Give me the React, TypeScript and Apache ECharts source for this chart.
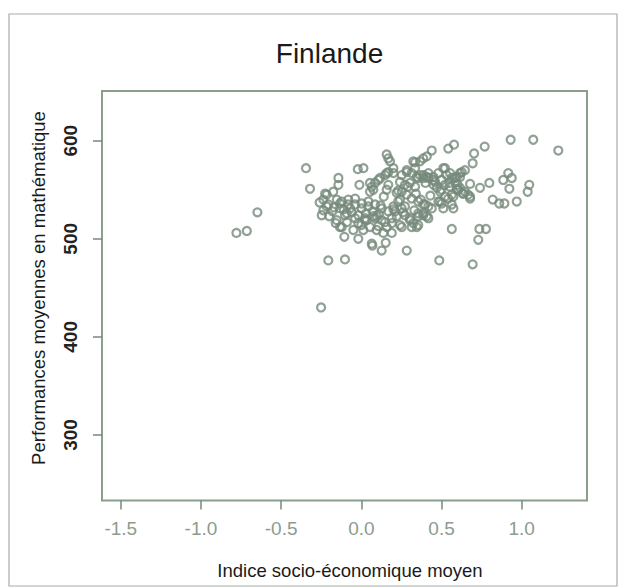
import React, { useEffect, useRef } from "react";
import * as echarts from "echarts";

const titleText = "Finlande";
const xName = "Indice socio-économique moyen";
const yName = "Performances moyennes en mathématique";
const xTicks = [-1.5, -1.0, -0.5, 0.0, 0.5, 1.0];
const yTicks = [300, 400, 500, 600];

// Indice socio-économique moyen (x) and Performances moyennes (y) per school
const sesIndex = [
  -0.779, -0.714, -0.648, -0.345, -0.32, -0.206, -0.251, -0.102, 0.069, 0.127,
  0.152, 0.283, 0.486, 0.564, -0.106, -0.019, 0.736, 0.777, 0.729, 0.694,
  0.578, 0.769, 0.931, 1.072, 1.228, 0.703, 0.694, 0.615, 0.584, 0.678,
  0.798, 0.74, 0.885, 0.916, 0.938, 0.923, 1.047, 1.037, 0.819, 0.86,
  0.892, 0.969, 0.678, 0.632, 0.595, 0.574, 0.564,
  0.158, 0.168, -0.022, 0.013, -0.012, -0.143, -0.143, 0.439, 0.408, 0.386,
  0.542, 0.324, 0.335, 0.283, 0.252, 0.2, 0.2, 0.168, 0.148, 0.106,
  0.085, 0.065, 0.054, 0.168, 0.158, 0.241, 0.272, 0.303, 0.335, 0.355,
  0.386, 0.418, 0.46, 0.501, 0.522, 0.532, 0.564, 0.252, 0.283, 0.314,
  0.355, 0.397, 0.439, 0.48, 0.501, 0.542, 0.564, 0.23, 0.252, 0.272,
  0.303, 0.355, 0.386, 0.418, -0.122, -0.081, -0.039, 0.002, 0.044, 0.085,
  0.127, 0.168, 0.21, -0.102, -0.039, 0.023, 0.085, 0.148, 0.19, -0.216,
  -0.175, -0.237, -0.216, -0.247, -0.2, -0.153, -0.133, -0.091, -0.133, 0.012,
  0.034, 0.075,
  -0.226, -0.206, -0.237, -0.133, -0.153, 0.054, 0.075, 0.117, 0.158, 0.179,
  -0.081, -0.039, -0.07, 0.002, 0.044, -0.019, 0.023, 0.054, 0.096, 0.127,
  0.158, 0.19, 0.137, 0.096, 0.252, 0.221, 0.2, 0.241, 0.272, 0.303,
  0.314, 0.387, 0.345, 0.283, 0.314, 0.345, 0.387, 0.418, 0.449, 0.48,
  0.511, 0.553, 0.584, 0.615, 0.646, 0.491, 0.522, 0.605, 0.636, 0.511,
  0.491,
  0.553, 0.595, 0.615, 0.646, 0.666, 0.574, 0.678, 0.626, 0.595, 0.449,
  0.408, 0.366, -0.122, -0.019, 0.065, 0.106, 0.19, 0.241, 0.324, 0.355,
  0.408, 0.355, 0.418, 0.387, 0.335, 0.366,
  -0.18, -0.11, -0.06, 0.03, 0.11, 0.2, 0.26, 0.33, 0.37, 0.43,
  0.47, 0.52, -0.16, -0.05, 0.07, 0.14, 0.23, 0.29, 0.34, 0.4,
  0.45, 0.5, 0.55, 0.6, -0.26, -0.17, -0.09, 0.0, 0.12, 0.22,
];
const mathScore = [
  506, 508, 527, 572, 551, 478, 430, 479, 493, 488,
  496, 488, 478, 510, 502, 500, 510, 510, 499, 474,
  596, 594, 601, 601, 590, 587, 577, 563, 558, 556,
  557, 552, 560, 567, 562, 551, 555, 548, 540, 536,
  536, 538, 543, 546, 551, 531, 545,
  586, 582, 571, 572, 555, 562, 555, 590, 584, 582,
  592, 579, 572, 568, 565, 572, 567, 568, 565, 560,
  557, 553, 548, 555, 550, 558, 555, 557, 553, 562,
  562, 562, 558, 560, 572, 565, 562, 548, 545, 541,
  538, 535, 531, 538, 536, 541, 535, 538, 531, 524,
  519, 523, 524, 521, 538, 535, 535, 531, 538, 535,
  531, 528, 528, 524, 521, 521, 521, 517, 521, 545,
  548, 540, 533, 524, 523, 540, 531, 526, 512, 509,
  519, 523,
  546, 535, 529, 536, 519, 557, 550, 562, 567, 579,
  540, 541, 531, 536, 533, 524, 519, 512, 523, 519,
  512, 506, 506, 509, 512, 523, 533, 540, 533, 521,
  512, 526, 512, 570, 567, 563, 565, 567, 563, 567,
  572, 567, 562, 567, 570, 548, 543, 550, 546, 531,
  538,
  553, 550, 552, 548, 545, 543, 541, 568, 563, 560,
  563, 565, 512, 516, 495, 513, 516, 514, 516, 514,
  523, 526, 533, 535, 578, 579,
  528, 530, 527, 526, 525, 530, 527, 529, 540, 544,
  552, 555, 516, 509, 528, 543, 549, 553, 546, 557,
  555, 550, 557, 555, 537, 532, 517, 514, 534, 547,
];

const GREEN = "#76897a";
const FONT = "'Liberation Sans', Arial, Helvetica, sans-serif";

export default function App() {
  const ref = useRef<HTMLDivElement>(null);
  useEffect(() => {
    document.body.style.margin = "0";
    if (!ref.current) return;
    const chart = echarts.init(ref.current, undefined, { renderer: "svg" });
    const points = sesIndex.map((x, i) => [x, mathScore[i]]);
    chart.setOption({
      animation: false,
      backgroundColor: "#ffffff",
      grid: {
        left: 102,
        top: 91,
        width: 485,
        height: 409.5,
        show: true,
        borderColor: "#8a9e8c",
        borderWidth: 2,
        backgroundColor: "transparent",
      },
      xAxis: {
        type: "value",
        min: -1.617,
        max: 1.407,
        axisLine: { show: false, onZero: false },
        splitLine: { show: false },
        axisTick: {
          show: true,
          length: 9,
          customValues: xTicks,
          lineStyle: { color: GREEN, width: 1.5 },
        },
        axisLabel: {
          customValues: xTicks,
          margin: 18,
          color: "#8c9c8e",
          fontSize: 19,
          fontFamily: FONT,
          formatter: (v: number) => v.toFixed(1),
        },
      },
      yAxis: {
        type: "value",
        min: 233.2,
        max: 650.7,
        axisLine: { show: false, onZero: false },
        splitLine: { show: false },
        axisTick: {
          show: true,
          length: 9,
          customValues: yTicks,
          lineStyle: { color: GREEN, width: 1.5 },
        },
        axisLabel: {
          customValues: yTicks,
          rotate: 90,
          margin: 22,
          color: "#222222",
          fontWeight: "bold",
          fontSize: 19,
          fontFamily: FONT,
          formatter: (v: number) => String(v),
        },
      },
      graphic: [
        {
          type: "rect",
          shape: { x: 9, y: 14, width: 608, height: 572 },
          style: { fill: "none", stroke: "#a3aea3", lineWidth: 1.2 },
          silent: true,
        },
        {
          type: "text",
          x: 329.5,
          y: 53,
          style: {
            text: titleText,
            fill: "#1a1a1a",
            font: `28px ${FONT}`,
            textAlign: "center",
            textVerticalAlign: "middle",
          },
        },
        {
          type: "text",
          x: 350,
          y: 570,
          style: {
            text: xName,
            fill: "#1a1a1a",
            font: `18.5px ${FONT}`,
            textAlign: "center",
            textVerticalAlign: "middle",
          },
        },
        {
          type: "text",
          x: 38,
          y: 288,
          rotation: Math.PI / 2,
          style: {
            text: yName,
            fill: "#1a1a1a",
            font: `18.5px ${FONT}`,
            textAlign: "center",
            textVerticalAlign: "middle",
          },
        },
      ],
      series: [
        {
          type: "scatter",
          data: points,
          symbol: "circle",
          symbolSize: 8,
          itemStyle: {
            color: "rgba(0,0,0,0)",
            borderColor: GREEN,
            borderWidth: 2.2,
          },
        },
      ],
    });
    return () => chart.dispose();
  }, []);
  return <div ref={ref} style={{ width: 619, height: 587 }} />;
}
